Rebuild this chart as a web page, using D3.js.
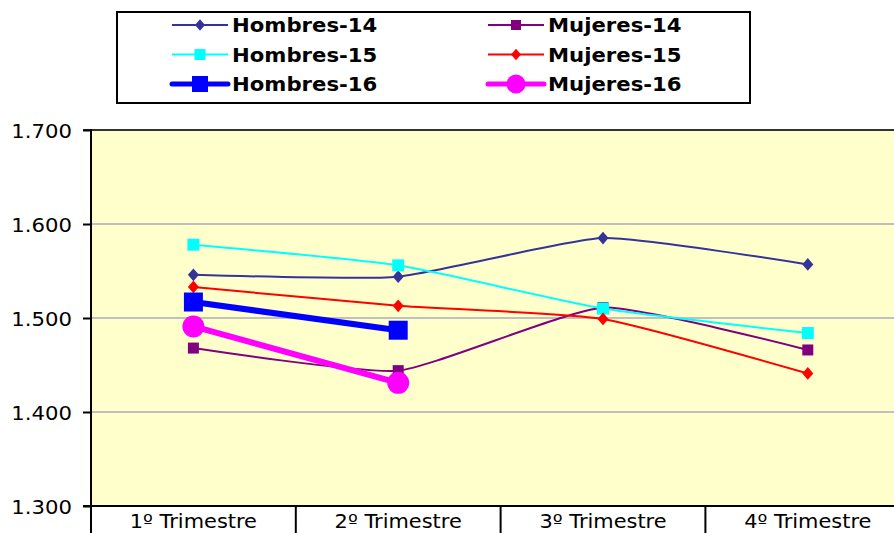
<!DOCTYPE html>
<html lang="es">
<head>
  <meta charset="UTF-8">
  <title>Hombres y Mujeres por trimestre</title>
  <style>
    body { margin: 0; background: #fff; }
    svg { display: block; }
    text { font-family: "DejaVu Sans", Verdana, sans-serif; fill: #000; }
  </style>
</head>
<body>
  <svg width="894" height="533"></svg>

  <script src="https://d3js.org/d3.v7.min.js"></script>
  <script>
    // datos
    const trimestres = ["1º Trimestre", "2º Trimestre", "3º Trimestre", "4º Trimestre"];
    const yTicks = [1.3, 1.4, 1.5, 1.6, 1.7];

    const hombres14 = [1.546, 1.544, 1.585, 1.557];
    const mujeres14 = [1.468, 1.444, 1.511, 1.466];
    const hombres15 = [1.578, 1.556, 1.510, 1.484];
    const mujeres15 = [1.533, 1.513, 1.499, 1.441];
    const hombres16 = [1.517, 1.487];
    const mujeres16 = [1.491, 1.431];

    // orden de las series (como en la leyenda, por filas)
    const series = [
      { name: "Hombres-14", values: hombres14, color: "#333399", width: 2, marker: "diamond", size: 11 },
      { name: "Mujeres-14", values: mujeres14, color: "#800080", width: 2, marker: "square", size: 11 },
      { name: "Hombres-15", values: hombres15, color: "#00ffff", width: 2, marker: "square", size: 12 },
      { name: "Mujeres-15", values: mujeres15, color: "#ff0000", width: 2, marker: "diamond", size: 11 },
      { name: "Hombres-16", values: hombres16, color: "#0000ff", width: 6, marker: "square", size: 19 },
      { name: "Mujeres-16", values: mujeres16, color: "#ff00ff", width: 6, marker: "circle", size: 22 }
    ];

    const svg = d3.select("svg");
    const margin = { left: 91, top: 130, bottom: 506 };
    const stretchX = 1.06; // el texto del original esta algo ensanchado

    const x = d3.scaleBand().domain(trimestres).range([margin.left, margin.left + 4 * 204.8]);
    const y = d3.scaleLinear().domain([1.3, 1.7]).range([margin.bottom, margin.top]);
    const fmt = v => d3.format(".3f")(v);

    function stretch(sel, k) {
      sel.each(function() {
        const len = this.getComputedTextLength();
        d3.select(this).attr("textLength", len * k).attr("lengthAdjust", "spacingAndGlyphs");
      });
    }

    function markerPath(type, size) {
      if (type === "diamond") {
        const w = size / 2, h = size * 0.58;
        return `M0,${-h}L${w},0L0,${h}L${-w},0Z`;
      }
      if (type === "circle") return d3.symbol(d3.symbolCircle, Math.PI * size * size / 4)();
      return d3.symbol(d3.symbolSquare, size * size)();
    }

    // area del grafico
    svg.append("rect")
      .attr("x", margin.left).attr("y", margin.top)
      .attr("width", x.range()[1] - margin.left)
      .attr("height", margin.bottom - margin.top)
      .attr("fill", "#ffffcc");

    // lineas de division
    svg.append("g").selectAll("line")
      .data(yTicks.filter(v => v > 1.3 && v < 1.7))
      .join("line")
      .attr("x1", margin.left).attr("x2", x.range()[1])
      .attr("y1", d => y(d)).attr("y2", d => y(d))
      .attr("stroke", "#c0c0c0").attr("stroke-width", 2);

    // borde superior
    svg.append("line")
      .attr("x1", margin.left - 8).attr("x2", x.range()[1])
      .attr("y1", y(1.7)).attr("y2", y(1.7))
      .attr("stroke", "#333").attr("stroke-width", 2);

    // eje Y
    const yAxis = svg.append("g")
      .attr("transform", `translate(${margin.left},0)`)
      .call(d3.axisLeft(y).tickValues(yTicks).tickFormat(fmt).tickSize(8).tickPadding(11));
    yAxis.select(".domain").remove();
    yAxis.selectAll(".tick line").attr("stroke", "#000").attr("stroke-width", 2);
    yAxis.selectAll(".tick text")
      .style("font-size", "20px").attr("dy", "0.38em").attr("fill", "#000");
    stretch(yAxis.selectAll(".tick text"), stretchX);

    svg.append("line")
      .attr("x1", margin.left).attr("x2", margin.left)
      .attr("y1", margin.top - 1).attr("y2", 533)
      .attr("stroke", "#000").attr("stroke-width", 2);

    // eje X
    svg.append("line")
      .attr("x1", margin.left - 8).attr("x2", 894)
      .attr("y1", margin.bottom).attr("y2", margin.bottom)
      .attr("stroke", "#000").attr("stroke-width", 2);

    svg.append("g").selectAll("line")
      .data(trimestres.slice(1))
      .join("line")
      .attr("x1", d => x(d)).attr("x2", d => x(d))
      .attr("y1", margin.bottom).attr("y2", 533)
      .attr("stroke", "#000").attr("stroke-width", 2);

    const xLabels = svg.append("g").selectAll("text")
      .data(trimestres)
      .join("text")
      .attr("x", d => x(d) + x.bandwidth() / 2)
      .attr("y", 528)
      .attr("text-anchor", "middle")
      .style("font-size", "19px")
      .text(d => d);
    stretch(xLabels, 1.1);

    // series
    const line = d3.line()
      .x((d, i) => x(trimestres[i]) + x.bandwidth() / 2)
      .y(d => y(d))
      .curve(d3.curveCardinal.tension(0.5));

    series.forEach(s => {
      const g = svg.append("g");
      g.append("path")
        .attr("d", line(s.values))
        .attr("fill", "none")
        .attr("stroke", s.color)
        .attr("stroke-width", s.width)
        .attr("stroke-linejoin", "round");
      g.selectAll("path.mk")
        .data(s.values)
        .join("path")
        .attr("class", "mk")
        .attr("transform", (d, i) => `translate(${x(trimestres[i]) + x.bandwidth() / 2},${y(d)})`)
        .attr("d", markerPath(s.marker, s.size))
        .attr("fill", s.color);
    });

    // leyenda
    const legend = svg.append("g");
    legend.append("rect")
      .attr("x", 117).attr("y", 12)
      .attr("width", 633).attr("height", 91)
      .attr("fill", "#fff").attr("stroke", "#000").attr("stroke-width", 2);

    const colX = [172, 488];
    const rowY = [25, 54.5, 84];
    const items = legend.selectAll("g.item")
      .data(series)
      .join("g")
      .attr("class", "item")
      .attr("transform", (d, i) => `translate(${colX[i % 2]},${rowY[Math.floor(i / 2)]})`);

    items.append("line")
      .attr("x1", 0).attr("x2", 56)
      .attr("stroke", d => d.color)
      .attr("stroke-width", d => d.width === 6 ? 5 : 2)
      .attr("stroke-linecap", d => d.width === 6 ? "round" : "butt");

    items.append("path")
      .attr("transform", "translate(28,0)")
      .attr("d", d => markerPath(d.marker, d.width === 6 ? d.size - 3 : d.size - 1))
      .attr("fill", d => d.color);

    const legendText = items.append("text")
      .attr("x", 60)
      .attr("dy", "0.36em")
      .style("font-size", "20px")
      .style("font-weight", "bold")
      .text(d => d.name);
    stretch(legendText, 1.06);
  </script>
</body>
</html>
